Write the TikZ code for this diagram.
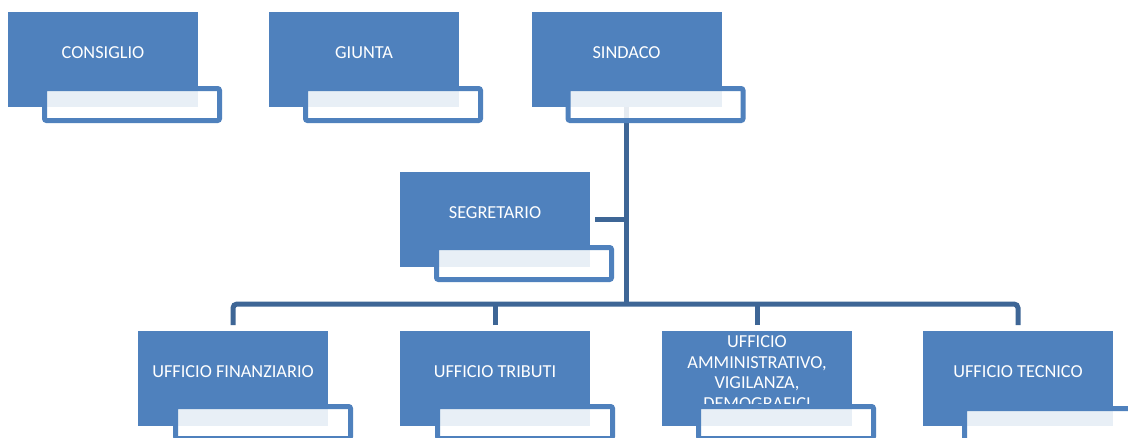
\documentclass[tikz,border=0pt]{standalone}
\usepackage{fontspec}
\setmainfont{Carlito}
\usetikzlibrary{calc}
\definecolor{boxblue}{RGB}{79,129,189}
\definecolor{linkblue}{RGB}{62,102,150}
\begin{document}
\begin{tikzpicture}[x=1pt,y=-1pt,
  bluebox/.style={rectangle, fill=boxblue, minimum width=190pt, minimum height=95pt, inner sep=0pt, outer sep=0pt},
  lbl/.style={text=white, font=\fontsize{18.3}{20.5}\selectfont, align=center, inner sep=0pt},
  wbox/.style={rectangle, draw=boxblue, line width=5pt, fill=white, fill opacity=0.875, draw opacity=1, rounded corners=2pt, minimum width=175pt, minimum height=32pt, inner sep=0pt, outer sep=0pt, anchor=north west},
  conn/.style={draw=linkblue, line width=5pt}]
\useasboundingbox (0,0) rectangle (1128,437);
\clip (0,0) rectangle (1128,437);
\fill[white] (0,0) rectangle (1128,437);
% blue boxes
\node[bluebox] (consiglio) at (103,59.5) {};
\node[bluebox] (giunta) at (364,59.5) {};
\node[bluebox] (sindaco) at (626.5,59.5) {};
\node[bluebox] (segretario) at (495,219.5) {};
\node[bluebox] (finanziario) at (233,378.5) {};
\node[bluebox] (tributi) at (495,378.5) {};
\node[bluebox] (amministrativo) at (757,378.5) {};
\node[bluebox] (tecnico) at (1018,378.5) {};
% labels
\node[lbl] (lconsiglio) at ($(consiglio.north)+(0,41)$) {CONSIGLIO};
\node[lbl] (lgiunta) at ($(giunta.north)+(0,41)$) {GIUNTA};
\node[lbl] (lsindaco) at ($(sindaco.north)+(0,41)$) {SINDACO};
\node[lbl] (lsegretario) at ($(segretario.north)+(0,41)$) {SEGRETARIO};
\node[lbl] (lfinanziario) at ($(finanziario.north)+(0,41)$) {UFFICIO FINANZIARIO};
\node[lbl] (ltributi) at ($(tributi.north)+(0,41)$) {UFFICIO TRIBUTI};
\node[lbl] (lamministrativo) at ($(amministrativo.north)+(0,41.5)$) {UFFICIO\\AMMINISTRATIVO,\\VIGILANZA,\\DEMOGRAFICI};
\node[lbl] (ltecnico) at ($(tecnico.north)+(0,41)$) {UFFICIO TECNICO};
% connectors
\path (sindaco.south) ++(0,197) coordinate (bus);
\draw[conn] (sindaco.south) -- (bus);
\draw[conn] ([xshift=5pt]segretario.east) -- (segretario.east -| bus);
\draw[conn, rounded corners=4pt] ([yshift=6pt]finanziario.north) |- (bus) -| ([yshift=6pt]tecnico.north);
\draw[conn] ([yshift=6pt]tributi.north) -- (tributi.north |- bus);
\draw[conn] ([yshift=6pt]amministrativo.north) -- (amministrativo.north |- bus);
% white boxes
\node[wbox] (wconsiglio) at ($(consiglio.north west)+(36.5,76.5)$) {};
\node[wbox] (wgiunta) at ($(giunta.north west)+(36.5,76.5)$) {};
\node[wbox] (wsindaco) at ($(sindaco.north west)+(36.5,76.5)$) {};
\node[wbox] (wsegretario) at ($(segretario.north west)+(36.5,75.5)$) {};
\node[wbox] (wfinanziario) at ($(finanziario.north west)+(37.5,75.5)$) {};
\node[wbox] (wtributi) at ($(tributi.north west)+(37.5,75.5)$) {};
\node[wbox] (wamministrativo) at ($(amministrativo.north west)+(36.5,75.5)$) {};
\node[wbox] (wtecnico) at ($(tecnico.north west)+(41.5,77.5)$) {};
\end{tikzpicture}
\end{document}
